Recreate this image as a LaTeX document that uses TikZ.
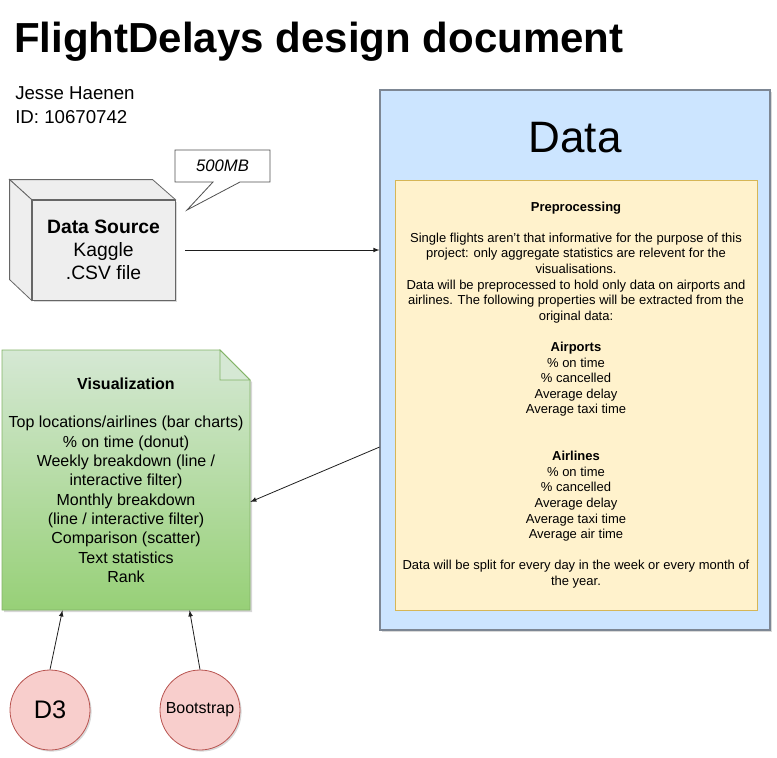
\documentclass[tikz,border=0pt]{standalone}
\usepackage{fontspec}
\setmainfont{Liberation Sans}
\usetikzlibrary{arrows,shadows}

\begin{document}
\begin{tikzpicture}[x=0.75pt,y=0.75pt,yscale=-1,xscale=1,>=latex,
  conn/.style={->,color={rgb, 255:red, 30; green, 30; blue, 30 },line width=0.6pt},
  softshadow/.style={drop shadow={opacity=0.3,shadow xshift=1.2pt,shadow yshift=-1.2pt}},
  greybox/.style={draw={rgb, 255:red, 102; green, 102; blue, 102 },fill={rgb, 255:red, 238; green, 238; blue, 238 },line width=0.6pt},
  bluebox/.style={draw={rgb, 255:red, 125; green, 135; blue, 148 },fill={rgb, 255:red, 204; green, 229; blue, 255 },line width=0.8pt},
  yellowbox/.style={draw={rgb, 255:red, 214; green, 182; blue, 86 },fill={rgb, 255:red, 255; green, 242; blue, 204 },line width=0.6pt},
  greenline/.style={draw={rgb, 255:red, 130; green, 179; blue, 102 },line width=0.6pt},
  redcircle/.style={circle,draw={rgb, 255:red, 184; green, 84; blue, 80 },fill={rgb, 255:red, 248; green, 206; blue, 204 },line width=0.6pt,minimum size=60pt,inner sep=0pt}
]
\useasboundingbox (0,0) rectangle (777,757);

% Text Node
\node (title) [anchor=base west,inner sep=0pt,font=\fontsize{31.5}{36}\selectfont\bfseries] at (14,52) {FlightDelays design document};
% Text Node
\node (author) [anchor=base west,inner sep=0pt,font=\fontsize{14}{17}\selectfont] at (15,99) {Jesse Haenen};
% Text Node
\node (ident) [anchor=base west,inner sep=0pt,font=\fontsize{14}{17}\selectfont] at (15,123) {ID: 10670742};

%Shape: Cube
\node (src) [greybox,softshadow,minimum width=107.25pt,minimum height=75pt,align=center,font=\fontsize{14.5}{17.5}\selectfont] at (103.5,250) {\textbf{Data Source}\\Kaggle\\.CSV file};
\draw [greybox] (src.north west) -- ++(-22,-20) -- ++(143,0) -- (src.north east) -- cycle ;
\draw [greybox] (src.north west) -- ++(-22,-20) -- ++(0,100) -- (src.south west) -- cycle ;

%Shape: Callout
\draw [draw={rgb, 255:red, 80; green, 80; blue, 80 },fill=white,line width=0.6pt] (175,150) -- (270,150) -- (270,182) -- (240,182) -- (187,210) -- (213,182) -- (175,182) -- cycle ;
% Text Node
\node (size) [inner sep=0pt,font=\fontsize{12.5}{15}\selectfont\itshape] at (222.5,166) {500MB};

%Shape: Rectangle
\node (data) [bluebox,softshadow,minimum width=292.5pt,minimum height=405pt] at (575,360) {};
% Text Node
\node (datatitle) [inner sep=0pt,font=\fontsize{33}{38}\selectfont] at (575,138) {Data};
%Shape: Rectangle
\node (prep) [yellowbox,minimum width=271.5pt,minimum height=322.5pt,align=center,font=\fontsize{9.75}{11.7}\selectfont] at (576,395) {\textbf{Preprocessing}\\~\\Single flights aren't that informative for the purpose of this\\project: only aggregate statistics are relevent for the\\visualisations.\\Data will be preprocessed to hold only data on airports and\\airlines. The following properties will be extracted from the\\original data:\\~\\\textbf{Airports}\\\% on time\\\% cancelled\\Average delay\\Average taxi time\\~\\~\\\textbf{Airlines}\\\% on time\\\% cancelled\\Average delay\\Average taxi time\\Average air time\\~\\Data will be split for every day in the week or every month of\\the year.};

%Shape: Note
\fill [color={rgb, 255:red, 120; green, 120; blue, 120 },opacity=0.3] (4,352) -- (222,352) -- (252,382) -- (252,612) -- (4,612) -- cycle ;
\shade [top color={rgb, 255:red, 213; green, 232; blue, 212 },bottom color={rgb, 255:red, 151; green, 208; blue, 119 }] (2,350) -- (220,350) -- (250,380) -- (250,610) -- (2,610) -- cycle ;
\draw [greenline] (2,350) -- (220,350) -- (250,380) -- (250,610) -- (2,610) -- cycle ;
\draw [greenline,fill={rgb, 255:red, 213; green, 232; blue, 212 }] (220,350) -- (220,380) -- (250,380) -- cycle ;
% Text Node
\node (vis) [minimum width=186pt,minimum height=195pt,align=center,font=\fontsize{12}{14.5}\selectfont] at (126,480) {\textbf{Visualization}\\~\\Top locations/airlines (bar charts)\\\% on time (donut)\\Weekly breakdown (line /\\interactive filter)\\Monthly breakdown\\(line / interactive filter)\\Comparison (scatter)\\Text statistics\\Rank};

%Shape: Circle
\node (dthree) [redcircle,softshadow,font=\fontsize{19}{22}\selectfont] at (50,710) {D3};
%Shape: Circle
\node (boot) [redcircle,softshadow,font=\fontsize{12}{14}\selectfont] at (200,710) {Bootstrap};

%Straight Lines
\draw [conn,shorten <=7.5pt] (src.east) -- (data.west |- src.east) ;
\draw [conn] (data.204) -- (vis.-10) ;
\draw [conn] (dthree.north) -- (vis.-116) ;
\draw [conn] (boot.north) -- (vis.-64) ;

\end{tikzpicture}
\end{document}
